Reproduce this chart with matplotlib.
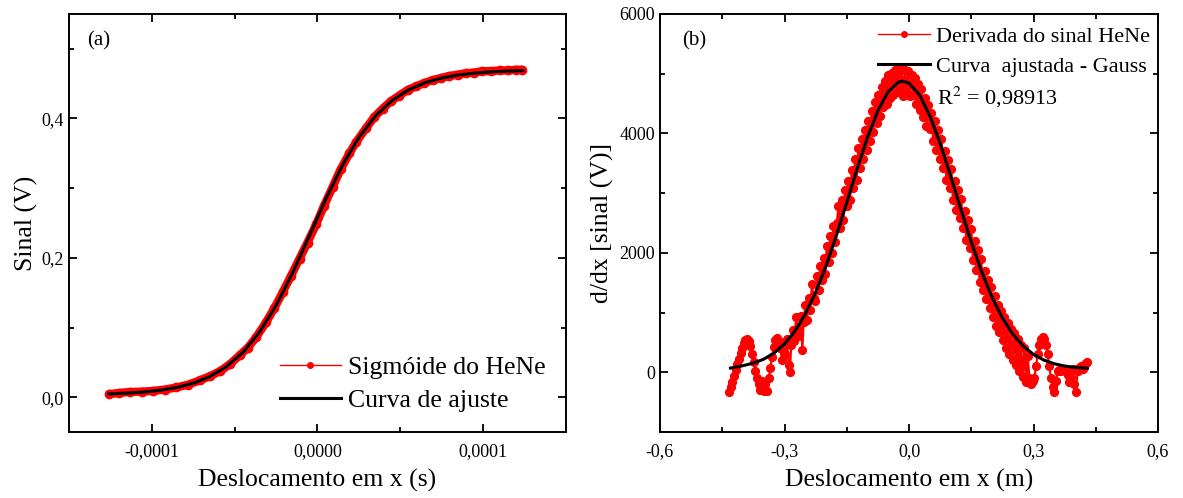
import matplotlib
matplotlib.use("Agg")
import matplotlib.pyplot as plt
from matplotlib.lines import Line2D
from matplotlib.ticker import AutoMinorLocator

plt.rcParams['font.family'] = ['Liberation Serif', 'DejaVu Serif']
plt.rcParams['mathtext.fontset'] = 'stix'

# ---- panel (a): sigmoid of the HeNe signal ----
sig_x = [-1.257e-4, -1.20e-4, -1.133e-4, -1.06e-4, -0.992e-4, -0.92e-4, -0.851e-4, -0.78e-4,
         -0.711e-4, -0.65e-4, -0.59e-4, -0.53e-4, -0.47e-4, -0.42e-4, -0.37e-4, -0.309e-4,
         -0.26e-4, -0.209e-4, -0.16e-4, -0.108e-4, -0.06e-4, -0.008e-4, 0.04e-4, 0.092e-4,
         0.14e-4, 0.193e-4, 0.233e-4, 0.293e-4, 0.343e-4, 0.393e-4, 0.444e-4, 0.494e-4,
         0.545e-4, 0.595e-4, 0.645e-4, 0.695e-4, 0.745e-4, 0.795e-4, 0.846e-4, 0.896e-4,
         0.946e-4, 0.996e-4, 1.05e-4, 1.10e-4, 1.15e-4, 1.20e-4, 1.237e-4]
sig_y = [0.0045, 0.006, 0.0075, 0.008, 0.009, 0.011, 0.014, 0.018,
         0.024, 0.030, 0.037, 0.047, 0.060, 0.071, 0.086, 0.108,
         0.128, 0.151, 0.174, 0.199, 0.222, 0.248, 0.275, 0.302,
         0.327, 0.350, 0.366, 0.386, 0.402, 0.414, 0.425, 0.433,
         0.441, 0.446, 0.451, 0.455, 0.458, 0.461, 0.463, 0.465,
         0.466, 0.468, 0.468, 0.469, 0.469, 0.470, 0.470]

sfit_x = [-1.26e-4, -1.15e-4, -1.05e-4, -0.95e-4, -0.85e-4, -0.75e-4, -0.65e-4, -0.55e-4,
          -0.45e-4, -0.35e-4, -0.25e-4, -0.15e-4, -0.05e-4, 0.05e-4, 0.15e-4, 0.25e-4,
          0.35e-4, 0.45e-4, 0.55e-4, 0.65e-4, 0.75e-4, 0.85e-4, 0.95e-4, 1.05e-4, 1.15e-4, 1.24e-4]
sfit_y = [0.0047, 0.0058, 0.0074, 0.0099, 0.0139, 0.0200, 0.0295, 0.0437,
          0.0643, 0.0933, 0.1316, 0.1785, 0.2311, 0.2843, 0.3327, 0.3728,
          0.4036, 0.4258, 0.4411, 0.4514, 0.4581, 0.4624, 0.4652, 0.4670, 0.4681, 0.4687]

a_xticks = [-1e-4, 0.0, 1e-4]
a_xticklabels = ['-0,0001', '0,0000', '0,0001']
a_yticks = [0.0, 0.2, 0.4]
a_yticklabels = ['0,0', '0,2', '0,4']

# ---- panel (b): derivative of the signal and gaussian fit ----
der_x = [-0.434, -0.430, -0.426, -0.422, -0.418, -0.414, -0.410, -0.406, -0.402, -0.398,
         -0.394, -0.390, -0.386, -0.382, -0.378, -0.374, -0.370, -0.366, -0.362, -0.358,
         -0.354, -0.350, -0.346, -0.342, -0.338, -0.334, -0.330, -0.326, -0.322, -0.318,
         -0.314, -0.310, -0.306, -0.302, -0.298, -0.294, -0.290, -0.287, -0.284, -0.280,
         -0.276, -0.272, -0.268, -0.264, -0.260, -0.257, -0.254, -0.250, -0.246, -0.242,
         -0.238, -0.234, -0.230, -0.226, -0.222, -0.218, -0.214, -0.210, -0.206, -0.202,
         -0.198, -0.194, -0.190, -0.186, -0.182, -0.178, -0.174, -0.170, -0.166, -0.162,
         -0.158, -0.154, -0.150, -0.146, -0.142, -0.138, -0.134, -0.130, -0.126, -0.122,
         -0.118, -0.114, -0.110, -0.106, -0.102, -0.098, -0.094, -0.090, -0.086, -0.082,
         -0.078, -0.074, -0.070, -0.066, -0.062, -0.058, -0.054, -0.050, -0.046, -0.042,
         -0.038, -0.034, -0.030, -0.026, -0.022, -0.018, -0.014, -0.010, -0.006, -0.002,
         0.002, 0.006, 0.010, 0.014, 0.018, 0.022, 0.026, 0.030, 0.034, 0.038,
         0.042, 0.046, 0.050, 0.054, 0.058, 0.062, 0.066, 0.070, 0.074, 0.078,
         0.082, 0.086, 0.090, 0.094, 0.098, 0.102, 0.106, 0.110, 0.114, 0.118,
         0.122, 0.126, 0.130, 0.134, 0.138, 0.142, 0.146, 0.150, 0.154, 0.158,
         0.162, 0.166, 0.170, 0.174, 0.178, 0.182, 0.186, 0.190, 0.194, 0.198,
         0.202, 0.206, 0.210, 0.214, 0.218, 0.222, 0.226, 0.230, 0.234, 0.238,
         0.242, 0.246, 0.250, 0.254, 0.258, 0.262, 0.266, 0.270, 0.274, 0.278,
         0.282, 0.286, 0.290, 0.294, 0.298, 0.302, 0.306, 0.310, 0.314, 0.318,
         0.322, 0.326, 0.330, 0.334, 0.338, 0.342, 0.346, 0.350, 0.354, 0.358,
         0.362, 0.366, 0.370, 0.374, 0.378, 0.382, 0.386, 0.390, 0.394, 0.398,
         0.402, 0.406, 0.410, 0.414, 0.418, 0.422, 0.426, 0.430]
der_y = [-330, -250, -160, -60, 40, 140, 230, 320, 410, 490,
         540, 560, 530, 440, 310, 170, 30, -90, -200, -300,
         -150, -320, -200, -320, -100, 80, 250, 420, 540, 580,
         520, 400, 200, 480, 300, 560, 120, 0, 450, 700,
         520, 920, 760, 600, 950, 370, 850, 1120, 880, 1250,
         1050, 1480, 1250, 1200, 1620, 1380, 1780, 1550, 1920, 1650,
         2120, 1850, 2280, 2000, 2450, 2180, 2500, 2780, 2420, 2880,
         2550, 3050, 2780, 3200, 2880, 3380, 3080, 3580, 3220, 3750,
         3420, 3900, 3580, 4050, 3720, 4200, 3880, 4380, 4020, 4520,
         4180, 4650, 4300, 4780, 4450, 4880, 4500, 4980, 4600, 5020,
         4650, 5060, 4700, 5080, 4750, 5100, 4620, 5070, 4700, 5040,
         4620, 4980, 4650, 4920, 4500, 4830, 4400, 4740, 4280, 4600,
         4120, 4480, 4080, 4350, 3880, 4200, 3720, 4050, 3580, 3900,
         3420, 3700, 3220, 3550, 3080, 3400, 2880, 3200, 2720, 3050,
         2580, 2900, 2420, 2700, 2220, 2550, 2080, 2400, 1880, 2200,
         1720, 2050, 1520, 1900, 1380, 1700, 1220, 1550, 1080, 1420,
         920, 1280, 780, 1130, 680, 1020, 540, 920, 400, 820,
         300, 720, 200, 660, 120, 560, 30, 450, -80, 400,
         -170, 280, -100, -200, -150, -100, 100, 300, 450, 550,
         590, 560, 460, 300, 100, -100, -250, -330, -150, 30,
         40, 30, 40, 35, 30, -50, -160, -80, 60, -200,
         -330, 20, 80, 110, 60, 130, 150, 170]

gfit_x = [-0.43, -0.40, -0.375, -0.35, -0.325, -0.30, -0.275, -0.25, -0.225, -0.20,
          -0.175, -0.15, -0.125, -0.10, -0.075, -0.05, -0.025, -0.015, 0.0, 0.025,
          0.05, 0.075, 0.10, 0.125, 0.15, 0.175, 0.20, 0.225, 0.25, 0.275,
          0.30, 0.325, 0.35, 0.375, 0.40, 0.43]
gfit_y = [70, 111, 153, 220, 323, 475, 687, 972, 1336, 1779,
          2289, 2843, 3406, 3935, 4381, 4701, 4861, 4875, 4843, 4648,
          4300, 3834, 3295, 2730, 2182, 1684, 1257, 909, 639, 440,
          299, 204, 143, 105, 82, 68]

b_xticks = [-0.6, -0.3, 0.0, 0.3, 0.6]
b_xticklabels = ['-0,6', '-0,3', '0,0', '0,3', '0,6']
b_yticks = [0, 2000, 4000, 6000]
b_yticklabels = ['0', '2000', '4000', '6000']


def style_axes(ax):
    for sp in ax.spines.values():
        sp.set_linewidth(1.4)
    ax.xaxis.set_minor_locator(AutoMinorLocator(2))
    ax.yaxis.set_minor_locator(AutoMinorLocator(2))
    ax.tick_params(which='both', direction='in', top=True, right=True,
                   width=1.3, labelsize=13)
    ax.tick_params(which='major', length=6)
    ax.tick_params(which='minor', length=3.5)
    ax.tick_params(axis='x', pad=8)


fig = plt.figure(figsize=(11.83, 4.98), dpi=100)
ax1 = fig.add_axes([0.0583, 0.1325, 0.4201, 0.8394])
ax2 = fig.add_axes([0.5579, 0.1325, 0.4210, 0.8394])

# panel (a)
ax1.plot(sig_x, sig_y, color='red', lw=6, marker='o', ms=6, solid_capstyle='round')
ax1.plot(sfit_x, sfit_y, color='black', lw=2.2)
ax1.set_xlim(-1.5e-4, 1.5e-4)
ax1.set_ylim(-0.05, 0.55)
ax1.set_xticks(a_xticks)
ax1.set_xticklabels(a_xticklabels)
ax1.set_yticks(a_yticks)
ax1.set_yticklabels(a_yticklabels)
style_axes(ax1)
ax1.set_xlabel('Deslocamento em x (s)', fontsize=18.5, labelpad=6)
ax1.set_ylabel('Sinal (V)', fontsize=18.5, labelpad=3)
ax1.text(0.036, 0.935, '(a)', transform=ax1.transAxes, fontsize=15, va='center')
handles_a = [Line2D([], [], color='red', lw=1, marker='o', ms=4),
             Line2D([], [], color='black', lw=2.2)]
ax1.legend(handles_a, ['Sigmóide do HeNe', 'Curva de ajuste'], loc='center left',
           bbox_to_anchor=(0.425, 0.115), frameon=False, fontsize=18.5,
           handlelength=2.35, handletextpad=0.3, labelspacing=0.36,
           borderpad=0, borderaxespad=0)

# panel (b)
ax2.plot(der_x, der_y, color='red', lw=1.6, marker='o', ms=5.8, mew=0.8)
ax2.plot(gfit_x, gfit_y, color='black', lw=2.2)
ax2.set_xlim(-0.6, 0.6)
ax2.set_ylim(-1000, 6000)
ax2.set_xticks(b_xticks)
ax2.set_xticklabels(b_xticklabels)
ax2.set_yticks(b_yticks)
ax2.set_yticklabels(b_yticklabels)
style_axes(ax2)
ax2.set_xlabel('Deslocamento em x (m)', fontsize=18.5, labelpad=6)
ax2.set_ylabel('d/dx [sinal (V)]', fontsize=18.5, labelpad=4)
ax2.text(0.045, 0.935, '(b)', transform=ax2.transAxes, fontsize=15, va='center')
handles_b = [Line2D([], [], color='red', lw=1, marker='o', ms=4),
             Line2D([], [], color='black', lw=2.2)]
ax2.legend(handles_b, ['Derivada do sinal HeNe', 'Curva  ajustada - Gauss'], loc='center left',
           bbox_to_anchor=(0.438, 0.91), frameon=False, fontsize=16,
           handlelength=2.35, handletextpad=0.25, labelspacing=0.42,
           borderpad=0, borderaxespad=0)
ax2.text(0.556, 0.80, 'R$^{2}$ = 0,98913', transform=ax2.transAxes, fontsize=16, va='center')

fig.savefig('out.png', dpi=100)
